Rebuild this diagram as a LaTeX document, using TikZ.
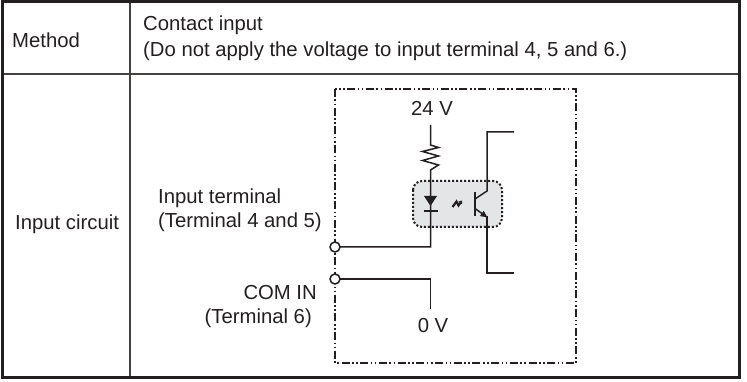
\documentclass[tikz,border=0pt]{standalone}
\usepackage{fontspec}
\setmainfont{Liberation Sans}
\usetikzlibrary{arrows.meta}
\definecolor{ink}{HTML}{231F20}
\definecolor{boxgray}{HTML}{E4E5E6}
\tikzset{
  txt/.style={anchor=base west, inner sep=0pt, text=ink, font=\fontsize{20.3}{24}\selectfont},
  txtr/.style={anchor=base east, inner sep=0pt, text=ink, font=\fontsize{20.3}{24}\selectfont},
  txtc/.style={anchor=base, inner sep=0pt, text=ink, font=\fontsize{20.3}{24}\selectfont},
  outer/.style={draw=ink, line width=2.6pt},
  grid/.style={draw=ink!85, line width=1.3pt},
  wire/.style={draw=ink, line width=1.5pt},
  dashdot/.style={draw=ink, line width=1.6pt, dash pattern=on 8pt off 2.5pt on 1.6pt off 2.5pt on 1.6pt off 2.5pt},
  optobox/.style={draw=ink, fill=boxgray, line width=2pt, dotted, rounded corners=9pt},
  terminal/.style={circle, draw=ink, fill=white, line width=1.5pt, minimum size=10pt, inner sep=0pt},
}
\begin{document}
\begin{tikzpicture}[x=1pt,y=-1pt]
\useasboundingbox (0,0) rectangle (747,382);
% table
\draw[grid] (130,2) -- (130,377.5);
\draw[grid] (2.5,74) -- (739.5,74);
\draw[outer] (2.5,1.8) rectangle (739.5,377.5);
% texts
\node[txt] (method) at (12,47.5) {Method};
\node[txt] (contact) at (143,31) {Contact input};
\node[txt] (donot) at (143,57) {(Do not apply the voltage to input terminal 4, 5 and 6.)};
\node[txt] (incirc) at (15,229.5) {Input circuit};
\node[txt] (interm) at (158,204) {Input terminal};
\node[txt] (interm2) at (158,227.5) {(Terminal 4 and 5)};
\node[txtr] (comin) at (317,299) {COM IN};
\node[txtr] (comin2) at (312,323) {(Terminal 6)};
\node[txtc] (v24) at (432,116) {24 V};
\node[txtc] (v0) at (433,332.5) {0 V};
% dash-dot enclosure
\draw[dashdot] (335,89) rectangle (576,363);
% opto-coupler box
\draw[optobox] (413,181) rectangle (502,227);
% coordinates
\coordinate (t1) at (335,247);
\coordinate (t2) at (335,279);
\coordinate (ledtop) at (430.5,125);
\coordinate (rtop) at (430.5,145);
\coordinate (rbot) at (430.5,170);
\coordinate (ledcorner) at (430.5,247);
\coordinate (comcorner) at (430.5,279);
\coordinate (comend) at (430.5,309);
% LED branch
\draw[wire] (ledtop) -- (rtop)
  -- ++(8,2.5) -- ++(-16,4) -- ++(16,4.5) -- ++(-16,4.5) -- ++(16,4.5) -- (rbot)
  -- (ledcorner) -- (t1);
% diode
\fill[ink] (424,196) -- (437,196) -- (430.5,206) -- cycle;
\draw[ink, line width=2pt] (423.5,211) -- (437.5,211);
% COM branch
\draw[wire] (t2) -- (comcorner) -- (comend);
% light symbol
\draw[ink, line width=2.2pt, line join=miter, -{Triangle[length=3pt,width=4.5pt]}] (452.5,207) -- (456.5,201.5) -- (458.5,205.5) -- (462,200.5);
% transistor
\draw[ink, line width=2.6pt] (475,192) -- (475,216);
\draw[wire] (475,199) -- (487,191) -- (487,132) -- (514,132);
\draw[wire, -{Triangle[length=7pt,width=6pt]}] (475,208.5) -- (487.5,217.5);
\draw[wire] (487,216) -- (487,273) -- (514,273);
% terminals
\node[terminal] (term1) at (t1) {};
\node[terminal] (term2) at (t2) {};
\end{tikzpicture}
\end{document}
